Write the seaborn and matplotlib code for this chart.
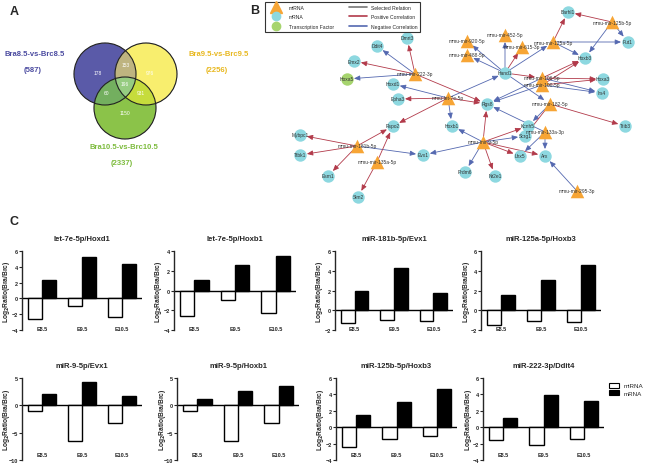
import matplotlib
matplotlib.use('Agg')
import matplotlib.pyplot as plt
from matplotlib.lines import Line2D
from matplotlib.patches import Circle, Patch
import numpy as np
import pandas as pd
import seaborn as sns

# ---- panel A: venn counts ----
venn_sets = ['Bra8.5-vs-Brc8.5', 'Bra9.5-vs-Brc9.5', 'Bra10.5-vs-Brc10.5']
venn_totals = [587, 2256, 2337]
# regions: B only, B&Y, Y only, B&G, B&Y&G, Y&G, G only
venn_counts = [178, 153, 976, 60, 196, 931, 1150]

# ---- panel B: network (layout positions) ----
node_names = ['Barhl1', 'Fut1', 'Hoxb3', 'Dmrt3', 'Ddit4', 'Emx2', 'Hand1',
              'Hoxa3', 'Irs4', 'Hoxd1', 'Epha3', 'Rgs8', 'Rspo2', 'Hoxb1',
              'Kcnh5', 'Scrg1', 'Trib3', 'Mybpc1', 'Ttbk1', 'Esm1', 'Sim2',
              'Evx1', 'Prdm6', 'Nr2e1', 'Lhx5', 'Arx', 'Hoxa5',
              'mmu-mir-125b-5p', 'mmu-mir-125a-5p', 'mmu-mir-452-5p',
              'mmu-mir-920-5p', 'mmu-mir-615-3p', 'mmu-mir-488-5p',
              'mmu-mir-222-3p', 'mmu-mir-106-5p', 'mmu-mir-100-5p',
              'mmu-let-7e-5p', 'mmu-mir-182-5p', 'mmu-mir-133a-3p',
              'mmu-mir-9-5p', 'mmu-mir-181b-5p', 'mmu-mir-135a-5p',
              'mmu-mir-295-3p']
node_kind = ['mRNA'] * 26 + ['TF'] + ['miRNA'] * 16
node_x = [568, 628, 585, 407, 377, 354, 505, 603, 602, 393, 398, 487, 393,
          452, 528, 525, 625, 300, 300, 328, 358, 423, 465, 495, 520, 545,
          347, 612, 553, 505, 467, 522, 467, 415, 542, 542, 448, 550, 545,
          483, 357, 377, 577]
node_y = [13, 43, 59, 39, 47, 62, 74, 80, 94, 85, 100, 105, 127, 127, 127,
          137, 127, 136, 156, 177, 198, 156, 173, 177, 157, 157, 80, 23, 43,
          36, 42, 48, 56, 75, 79, 86, 99, 105, 133, 143, 147, 163, 192]
edges = [
    ('mmu-mir-125b-5p', 'Barhl1', '+'), ('mmu-mir-125b-5p', 'Fut1', '-'),
    ('mmu-mir-125b-5p', 'Hoxb3', '-'), ('mmu-mir-125a-5p', 'Barhl1', '+'),
    ('mmu-mir-125a-5p', 'Fut1', '-'), ('mmu-mir-125a-5p', 'Hoxb3', '-'),
    ('Hand1', 'mmu-mir-125a-5p', '-'), ('Hand1', 'mmu-mir-452-5p', '-'),
    ('Hand1', 'mmu-mir-920-5p', '-'), ('Hand1', 'mmu-mir-488-5p', '-'),
    ('Hand1', 'mmu-mir-615-3p', '+'),
    ('mmu-mir-222-3p', 'Dmrt3', '+'), ('mmu-mir-222-3p', 'Ddit4', '-'),
    ('mmu-mir-222-3p', 'Emx2', '+'), ('mmu-mir-222-3p', 'Hoxa5', '-'),
    ('mmu-mir-222-3p', 'Rgs8', '+'),
    ('mmu-let-7e-5p', 'Hoxd1', '-'), ('mmu-let-7e-5p', 'Epha3', '+'),
    ('mmu-let-7e-5p', 'Rgs8', '+'), ('mmu-let-7e-5p', 'Rspo2', '+'),
    ('mmu-let-7e-5p', 'Hoxb1', '-'), ('mmu-let-7e-5p', 'Hand1', '-'),
    ('mmu-mir-106-5p', 'Hoxb3', '+'), ('mmu-mir-106-5p', 'Hoxa3', '+'),
    ('mmu-mir-106-5p', 'Irs4', '-'), ('mmu-mir-106-5p', 'Rgs8', '-'),
    ('mmu-mir-100-5p', 'Hoxb3', '+'), ('mmu-mir-100-5p', 'Hoxa3', '+'),
    ('mmu-mir-100-5p', 'Irs4', '-'), ('mmu-mir-100-5p', 'Rgs8', '-'),
    ('Hand1', 'mmu-mir-106-5p', '+'), ('Hand1', 'mmu-mir-182-5p', '-'),
    ('mmu-mir-182-5p', 'Kcnh5', '-'), ('mmu-mir-182-5p', 'Trib3', '+'),
    ('mmu-mir-133a-3p', 'Rgs8', '-'), ('mmu-mir-133a-3p', 'Lhx5', '-'),
    ('mmu-mir-133a-3p', 'Arx', '-'), ('mmu-mir-182-5p', 'Scrg1', '+'),
    ('mmu-mir-9-5p', 'Rgs8', '+'), ('mmu-mir-9-5p', 'Hoxb1', '-'),
    ('mmu-mir-9-5p', 'Evx1', '-'), ('mmu-mir-9-5p', 'Prdm6', '-'),
    ('mmu-mir-9-5p', 'Nr2e1', '+'), ('mmu-mir-9-5p', 'Lhx5', '+'),
    ('mmu-mir-9-5p', 'Arx', '+'), ('mmu-mir-9-5p', 'Kcnh5', '+'),
    ('mmu-mir-9-5p', 'Scrg1', '-'),
    ('mmu-mir-181b-5p', 'Mybpc1', '+'), ('mmu-mir-181b-5p', 'Ttbk1', '+'),
    ('mmu-mir-181b-5p', 'Esm1', '+'), ('mmu-mir-181b-5p', 'Rspo2', '+'),
    ('mmu-mir-181b-5p', 'Evx1', '-'),
    ('mmu-mir-135a-5p', 'Rspo2', '+'), ('mmu-mir-135a-5p', 'Sim2', '+'),
    ('mmu-mir-295-3p', 'Arx', '-'),
]

# ---- panel C: qPCR log2 ratios ----
stages = ['E8.5', 'E9.5', 'E10.5']
titles = ['let-7e-5p/Hoxd1', 'let-7e-5p/Hoxb1', 'miR-181b-5p/Evx1',
          'miR-125a-5p/Hoxb3', 'miR-9-5p/Evx1', 'miR-9-5p/Hoxb1',
          'miR-125b-5p/Hoxb3', 'miR-222-3p/Ddit4']
mirna_ratio = [[-2.6, -1.0, -2.3], [-2.6, -1.0, -2.3], [-1.3, -1.0, -1.1],
               [-1.5, -1.1, -1.2], [-1.1, -6.5, -3.2], [-1.1, -6.5, -3.2],
               [-2.4, -1.4, -1.1], [-1.5, -2.2, -1.4]]
mrna_ratio = [[2.3, 5.2, 4.4], [1.1, 2.6, 3.5], [2.0, 4.3, 1.7],
              [1.5, 3.1, 4.6], [2.0, 4.3, 1.7], [1.1, 2.6, 3.5],
              [1.5, 3.1, 4.6], [1.1, 3.9, 3.2]]
y_ranges = [(-4, 6, 2), (-4, 4, 2), (-2, 6, 2), (-2, 6, 2),
            (-10, 5, 5), (-10, 5, 5), (-4, 6, 2), (-4, 6, 2)]

sns.set_style('white')
plt.rcParams['font.family'] = ['Liberation Sans', 'DejaVu Sans']

W, H = 650, 464
fig = plt.figure(figsize=(W / 100, H / 100), dpi=100)


def px_axes(left, top, w, h):
    return fig.add_axes([left / W, 1 - (top + h) / H, w / W, h / H])


# ---------------- A: venn ----------------
ax_a = px_axes(0, 0, 258, 205)
ax_a.set_xlim(0, 258)
ax_a.set_ylim(205, 0)
ax_a.axis('off')

centers = [(105, 75), (146, 75), (125, 109)]
radius = 31
region_colors = {1: '#5a5aa8', 2: '#f8ef6e', 4: '#8cc44a', 3: '#beb480',
                 5: '#73af5f', 6: '#c6dc3c', 7: '#96cd82'}
xs = np.linspace(60, 190, 650)
ys = np.linspace(30, 150, 600)
X, Y = np.meshgrid(xs, ys)
code = np.zeros(X.shape, dtype=int)
for bit, (cx, cy) in zip([1, 2, 4], centers):
    code += bit * (((X - cx) ** 2 + (Y - cy) ** 2) <= radius ** 2)
rgba = np.zeros(X.shape + (4,))
for k, col in region_colors.items():
    rgba[code == k] = matplotlib.colors.to_rgba(col)
ax_a.imshow(rgba, extent=(60, 190, 150, 30), origin='upper',
            interpolation='antialiased', zorder=1)
for cx, cy in centers:
    ax_a.add_patch(Circle((cx, cy), radius, fill=False, ec='#222222',
                          lw=0.8, zorder=2))

count_pos = [(98, 74), (126, 66), (150, 74), (107, 94), (125, 85),
             (141, 94), (125, 114)]
for (tx, ty), n in zip(count_pos, venn_counts):
    ax_a.text(tx, ty, str(n), color='white', fontsize=3.5, ha='center',
              va='center', zorder=3)

set_label_pos = [(35, 55), (219, 55), (124, 148)]
set_colors = ['#4b4ba0', '#e8b820', '#7cbb3c']
for (tx, ty), name, tot, c in zip(set_label_pos, venn_sets, venn_totals,
                                  set_colors):
    ax_a.text(tx, ty, name, color=c, fontsize=5.5, fontweight='bold',
              ha='center', va='center')
    ax_a.text(tx - 2, ty + 16, f'({tot})', color=c, fontsize=5.5,
              fontweight='bold', ha='center', va='center')
ax_a.text(10, 12, 'A', fontsize=9, fontweight='bold', va='center')

# ---------------- B: network ----------------
ax_b = px_axes(258, 0, 392, 205)
ax_b.set_xlim(258, 650)
ax_b.set_ylim(205, 0)
ax_b.axis('off')

pos = {n: (x, y) for n, x, y in zip(node_names, node_x, node_y)}
kind = dict(zip(node_names, node_kind))
edge_colors = {'+': '#b23a4a', '-': '#5468b0'}
for s, t, sign in edges:
    ax_b.annotate('', xy=pos[t], xytext=pos[s], zorder=1,
                  arrowprops=dict(arrowstyle='-|>,head_length=0.35,head_width=0.15',
                                  color=edge_colors[sign], lw=0.6,
                                  shrinkA=0, shrinkB=5))
node_style = {'mRNA': ('o', '#8dd8e0', 80), 'TF': ('o', '#a6d46e', 80),
              'miRNA': ('^', '#f7a535', 95)}
for k, (m, c, s) in node_style.items():
    sel = [n for n in node_names if kind[n] == k]
    ax_b.scatter([pos[n][0] for n in sel], [pos[n][1] for n in sel],
                 marker=m, s=s, c=c, linewidths=0, zorder=2)
for n in node_names:
    ax_b.text(pos[n][0], pos[n][1], n, fontsize=3.5, color='#333333',
              ha='center', va='center', zorder=3)

leg_handles = [
    Line2D([], [], marker='^', color='#f7a535', ls='none', markersize=8),
    Line2D([], [], marker='o', color='#8dd8e0', ls='none', markersize=6),
    Line2D([], [], marker='o', color='#a6d46e', ls='none', markersize=6),
    Line2D([], [], color='#777777', lw=1.2),
    Line2D([], [], color='#b23a4a', lw=1.2),
    Line2D([], [], color='#5468b0', lw=1.2),
]
leg_labels = ['miRNA', 'mRNA', 'Transcription Factor', 'Selected Relation',
              'Positive Correlation', 'Negative Correlation']
ax_b.legend(leg_handles, leg_labels, ncol=2, loc='upper left',
            bbox_to_anchor=(4 / 392, 1.0), fontsize=3.6, frameon=True,
            fancybox=False, edgecolor='#333333', handlelength=3.5,
            columnspacing=3, labelspacing=0.9, borderpad=0.6,
            framealpha=1).get_frame().set_linewidth(0.8)
ax_b.text(250, 11, 'B', fontsize=9, fontweight='bold', va='center')

# ---------------- C: bar charts ----------------
fig.text(9 / W, 1 - 222 / H, 'C', fontsize=9, fontweight='bold', va='center')

bar_rects = [(22, 252, 120, 79), (174, 252, 122, 79), (335, 252, 118, 79),
             (481, 252, 120, 79), (22, 379, 120, 82), (177, 379, 122, 82),
             (336, 379, 121, 82), (483, 379, 121, 82)]
ylab = r'Log$_\mathbf{2}$Ratio(Bra/Brc)'
for i, rect in enumerate(bar_rects):
    ax = px_axes(*rect)
    df = pd.DataFrame({'stage': stages * 2,
                       'type': ['miRNA'] * 3 + ['mRNA'] * 3,
                       'ratio': mirna_ratio[i] + mrna_ratio[i]})
    sns.barplot(data=df, x='stage', y='ratio', hue='type',
                palette={'miRNA': 'white', 'mRNA': 'black'},
                edgecolor='black', linewidth=1.0, width=0.7, legend=False,
                ax=ax)
    lo, hi, step = y_ranges[i]
    ax.axhline(0, color='black', lw=1.0, zorder=0)
    ax.set_ylim(lo, hi)
    ax.set_yticks(np.arange(lo, hi + 0.1, step))
    ax.set_xlim(-0.5, 2.5)
    sns.despine(ax=ax, bottom=True)
    ax.spines['left'].set_linewidth(1.0)
    ax.set_xlabel('')
    ax.set_ylabel(ylab, fontsize=4.8, fontweight='bold')
    ax.yaxis.set_label_coords(-9.5 / rect[2], 0.5)
    ax.set_title(titles[i], fontsize=5.5, fontweight='bold', pad=8)
    ax.tick_params(axis='y', left=True, length=2, width=0.8, labelsize=4,
                   pad=1)
    ax.tick_params(axis='x', length=0, labelsize=4,
                   pad=-3 if i < 4 else -6)
    for lab in ax.get_xticklabels() + ax.get_yticklabels():
        lab.set_fontweight('bold')

fig.legend([Patch(fc='white', ec='black', lw=0.8),
            Patch(fc='black', ec='black', lw=0.8)], ['miRNA', 'mRNA'],
           loc='upper left', bbox_to_anchor=(603 / W, 1 - 378 / H),
           fontsize=4.5, frameon=False, handlelength=1.6, handleheight=0.9,
           labelspacing=0.3)

fig.savefig('out.png', dpi=100, facecolor='white')
